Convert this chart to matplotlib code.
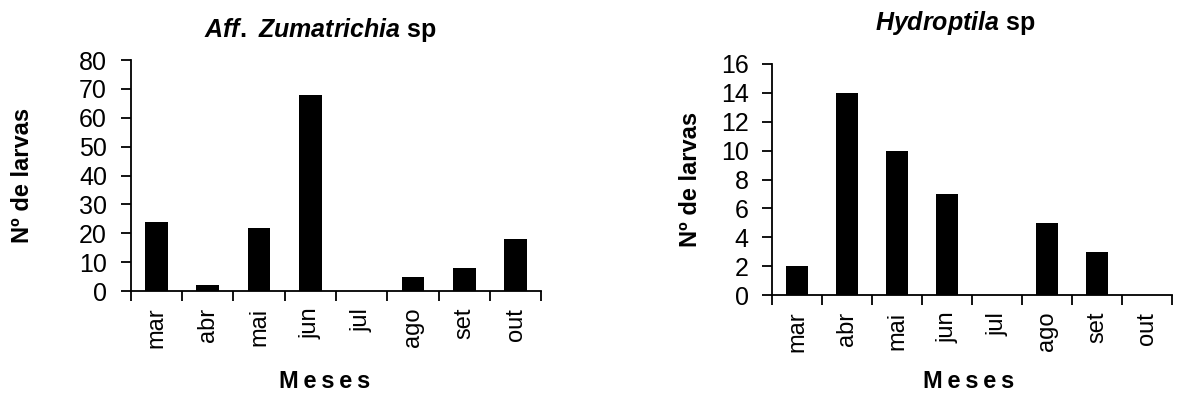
import matplotlib.pyplot as plt
import numpy as np

months = ['mar', 'abr', 'mai', 'jun', 'jul', 'ago', 'set', 'out']
zumatrichia = [24, 2, 22, 68, 0, 5, 8, 18]
hydroptila = [2, 14, 10, 7, 0, 5, 3, 0]

plt.rcParams['font.family'] = ['Liberation Sans', 'DejaVu Sans']
plt.rcParams['mathtext.fontset'] = 'custom'
plt.rcParams['mathtext.it'] = 'Liberation Sans:italic:bold'
plt.rcParams['mathtext.rm'] = 'Liberation Sans:bold'

fig = plt.figure(figsize=(11.77, 3.95), dpi=100)
ax1 = fig.add_axes([0.111, 0.263, 0.349, 0.585])
ax2 = fig.add_axes([0.656, 0.253, 0.340, 0.585])


def draw(ax, values, ymax, ystep, title, title_xy, ylab_x, xlab_xy):
    x = np.arange(len(months)) + 0.5
    ax.bar(x, values, width=0.44, color='black')
    ax.set_xlim(0, len(months))
    ax.set_ylim(0, ymax)
    ax.set_yticks(np.arange(0, ymax + 1, ystep))
    ax.set_xticks(np.arange(0, len(months) + 1))
    ax.set_xticklabels([])
    ax.set_xticks(x, minor=True)
    ax.set_xticklabels(months, minor=True, rotation=90, fontsize=17)
    ax.tick_params(axis='x', which='minor', length=0, pad=12)
    ax.tick_params(axis='x', which='major', length=7, width=1.3, direction='out')
    ax.tick_params(axis='y', length=7, width=1.3, labelsize=18, pad=10)
    ax.spines['top'].set_visible(False)
    ax.spines['right'].set_visible(False)
    ax.spines['left'].set_linewidth(1.3)
    ax.spines['bottom'].set_linewidth(1.3)
    ax.set_ylabel('Nº de larvas', fontsize=17, fontweight='bold', va='center')
    ax.yaxis.set_label_coords(ylab_x, 0.5)
    ax.text(xlab_xy[0], xlab_xy[1], 'M\u2009e\u2009s\u2009e\u2009s',
            transform=ax.transAxes, ha='center', va='center',
            fontsize=17, fontweight='bold')
    ax.text(title_xy[0], title_xy[1], title, transform=ax.transAxes,
            ha='center', va='center', fontsize=18, fontweight='bold')


draw(ax1, zumatrichia, 80, 10, r'$\mathit{Aff.\ Zumatrichia}$ sp',
     (0.463, 1.13), -0.263, (0.473, -0.39))
draw(ax2, hydroptila, 16, 2, r'$\mathit{Hydroptila}$ sp',
     (0.4575, 1.177), -0.205, (0.49, -0.375))

plt.savefig('out.png', dpi=100)
